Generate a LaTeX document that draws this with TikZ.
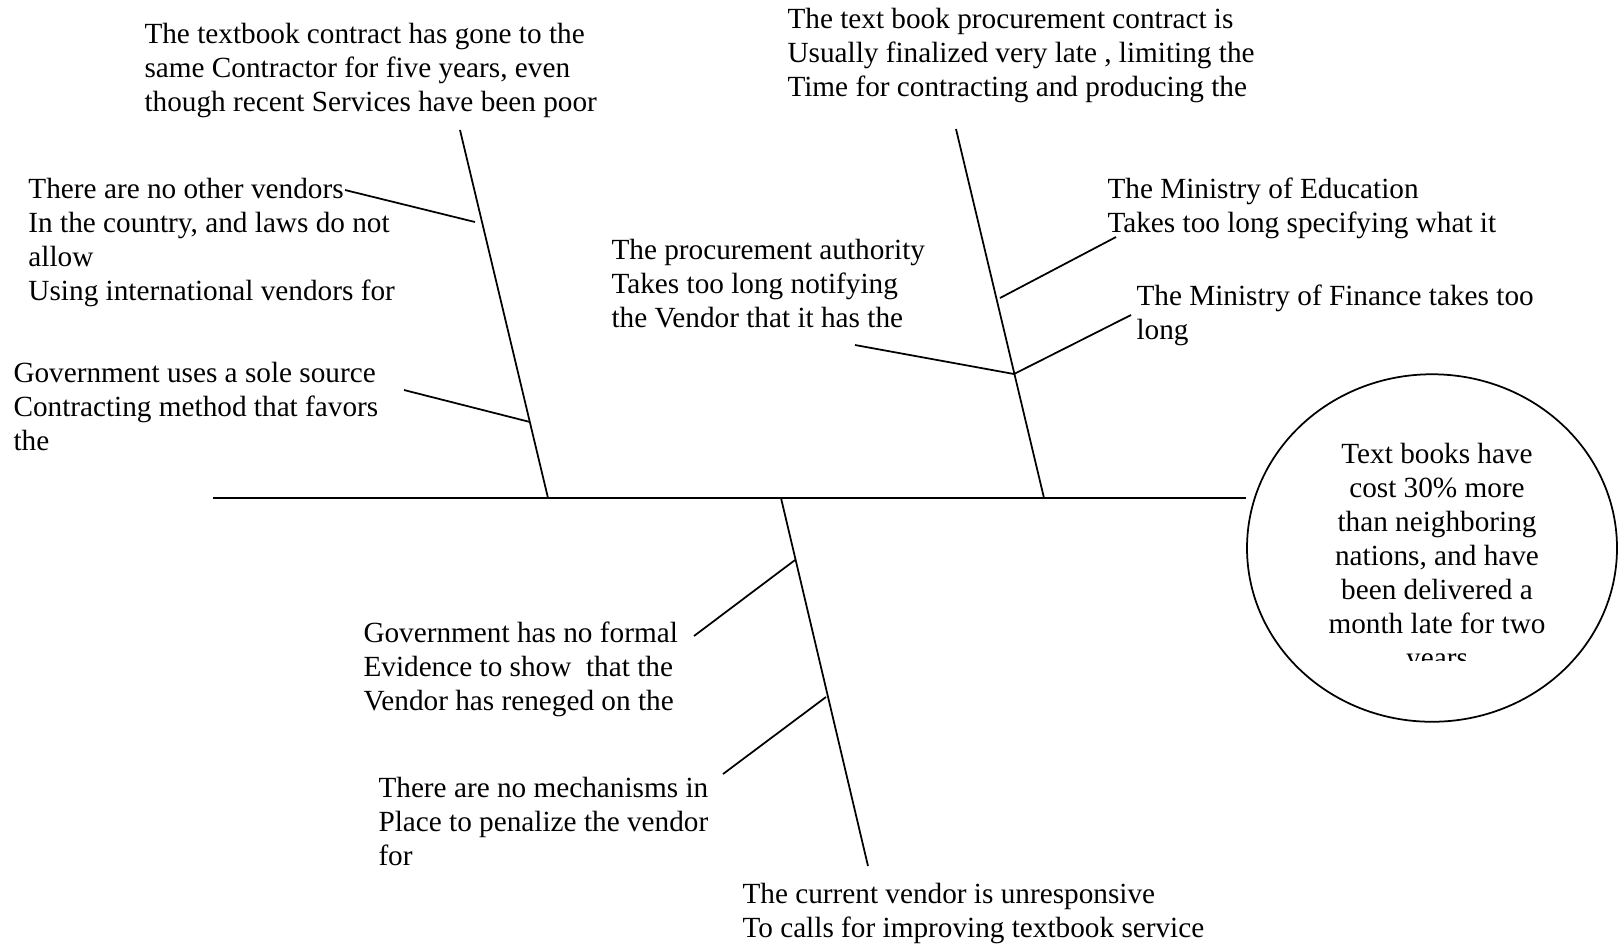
\documentclass[tikz,border=0pt]{standalone}
\usepackage{fontspec}
\setmainfont{Liberation Serif}
\usetikzlibrary{shapes.geometric}

\begin{document}
\begin{tikzpicture}[x=0.4pt,y=-0.4pt,
    cause/.style={anchor=base west,align=left,inner sep=0pt,font=\fontsize{11.7}{13.6}\selectfont},
    bone/.style={line width=0.7pt}]
    \useasboundingbox (0,0) rectangle (1619,943);

    % spine and head
    \coordinate (tail) at (213,498);
    \node [draw,ellipse,line width=0.7pt,minimum width=148pt,minimum height=139pt] (effect) at (1432,548) {};
    \draw [bone] (tail) -- (effect.west |- tail);
    \begin{scope}
      \clip (1250,380) rectangle (1610,660);
      \node [anchor=base,align=center,inner sep=0pt,font=\fontsize{11.7}{13.6}\selectfont] (effecttext) at (1437,667)
        {Text books have\\cost 30\% more\\than neighboring\\nations, and have\\been delivered a\\month late for two\\years};
    \end{scope}

    % bones
    \coordinate (a0) at (548,498);  \coordinate (a1) at (460,130);
    \coordinate (b0) at (1044,498); \coordinate (b1) at (956,129);
    \coordinate (c0) at (781,498);  \coordinate (c1) at (868,866);
    \draw [bone] (a0) -- (a1);
    \draw [bone] (b0) -- (b1);
    \draw [bone] (c0) -- (c1);

    % ribs
    \coordinate (ra1s) at (345,190);  \coordinate (ra1e) at (475,222);
    \coordinate (ra2s) at (404,390);  \coordinate (ra2e) at (530,422);
    \coordinate (rb1s) at (1116,237); \coordinate (rb1e) at (1000,298);
    \coordinate (rb2s) at (855,345);  \coordinate (rbj) at (1014,374);
    \coordinate (rb3s) at (1131,315);
    \coordinate (rc1s) at (694,636);  \coordinate (rc1e) at (795,560);
    \coordinate (rc2s) at (723,774);  \coordinate (rc2e) at (826,697);
    \draw [bone] (ra1s) -- (ra1e);
    \draw [bone] (ra2s) -- (ra2e);
    \draw [bone] (rb1s) -- (rb1e);
    \draw [bone] (rb2s) -- (rbj) -- (rb3s);
    \draw [bone] (rc1s) -- (rc1e);
    \draw [bone] (rc2s) -- (rc2e);

    % causes (placed at the baseline of their last line)
    \node [cause] (contractor) at (144,111) {The textbook contract has gone to the\\same Contractor for five years, even\\though recent Services have been poor};
    \node [cause] (late) at (787,96) {The text book procurement contract is\\Usually finalized very late , limiting the\\Time for contracting and producing the};
    \node [cause] (vendors) at (28,300) {There are no other vendors\\In the country, and laws do not\\allow\\Using international vendors for};
    \node [cause] (solesource) at (13,450) {Government uses a sole source\\Contracting method that favors\\the};
    \node [cause] (authority) at (611,327) {The procurement authority\\Takes too long notifying\\the Vendor that it has the};
    \node [cause] (education) at (1107,232) {The Ministry of Education\\Takes too long specifying what it};
    \node [cause] (finance) at (1136,339) {The Ministry of Finance takes too\\long};
    \node [cause] (evidence) at (363,710) {Government has no formal\\Evidence to show\ \ that the\\Vendor has reneged on the};
    \node [cause] (penalize) at (378,865) {There are no mechanisms in\\Place to penalize the vendor\\for};
    \node [cause] (unresponsive) at (742,937) {The current vendor is unresponsive\\To calls for improving textbook service};
\end{tikzpicture}
\end{document}
